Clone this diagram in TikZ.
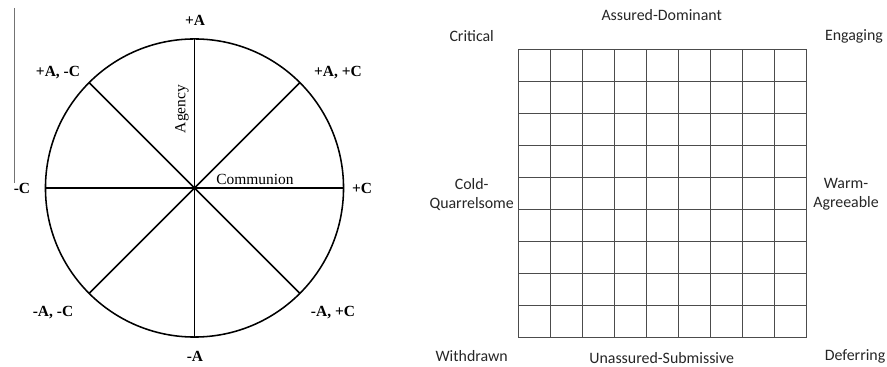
\documentclass[tikz,border=0pt]{standalone}
\usepackage{fontspec}
\setmainfont{Liberation Serif}
\newfontfamily\calibfont{Carlito}
\usetikzlibrary{positioning, calc}
\tikzset{
    pole/.style={font=\bfseries\fontsize{11}{13}\selectfont, inner sep=1pt},
    axisname/.style={font=\fontsize{11}{13}\selectfont, inner sep=1pt},
    octant/.style={font=\calibfont\fontsize{11.3}{13.5}\selectfont, align=center, text=black!85, inner sep=1pt},
    spoke/.style={line width=1.1pt},
    cell/.style={line width=0.7pt, draw=black!70}
}

\begin{document}
\begin{tikzpicture}[x=0.025cm, y=0.025cm]
  \useasboundingbox (0,0) rectangle (887,367);
  % circumplex wheel
  \node[circle, draw, spoke, minimum size=7.45cm, inner sep=0pt, outer sep=0pt] (wheel) at (194.5,179) {};
  \foreach \a in {0,45,...,315}
    \draw[spoke] (wheel.center) -- (wheel.\a);
  \fill (wheel.center) circle (2.2);
  \node[pole] (pA) at (195,347) {+A};
  \node[pole] (mA) at (195,11) {-A};
  \node[pole] (mC) at (22,179) {-C};
  \node[pole] (pC) at (362,179) {+C};
  \node[pole] (pAmC) at (58,294) {+A, -C};
  \node[pole] (pApC) at (338,294) {+A, +C};
  \node[pole] (mAmC) at (53,54) {-A, -C};
  \node[pole] (mApC) at (333,54) {-A, +C};
  \node[axisname, rotate=90] (agency) at (182,258) {Agency};
  \node[axisname] (communion) at (255,188) {Communion};
  % margin rule
  \coordinate (rtop) at (14,359);
  \coordinate (rbot) at (14,184);
  \draw[black!55, line width=0.6pt] (rtop) -- (rbot);

  % interpersonal grid
  \node[rectangle, cell, minimum width=7.2cm, minimum height=7.2cm, inner sep=0pt, outer sep=0pt] (board) at (662.7,173.7) {};
  \foreach \i in {1,...,8} {
    \draw[cell] ($(board.south west)!\i/9!(board.south east)$) -- ($(board.north west)!\i/9!(board.north east)$);
    \draw[cell] ($(board.south west)!\i/9!(board.north west)$) -- ($(board.south east)!\i/9!(board.north east)$);
  }
  \node[octant] (dominant) at (661.7,352) {Assured-Dominant};
  \node[octant] (critical) at (471.7,331) {Critical};
  \node[octant] (engaging) at (854,331) {Engaging};
  \node[octant] (cold) at (471.7,172.5) {Cold-\\Quarrelsome};
  \node[octant] (warm) at (846,172.5) {Warm-\\Agreeable};
  \node[octant] (withdrawn) at (471.7,11) {Withdrawn};
  \node[octant] (submissive) at (661.7,9) {Unassured-Submissive};
  \node[octant] (deferring) at (855,11) {Deferring};
\end{tikzpicture}
\end{document}
